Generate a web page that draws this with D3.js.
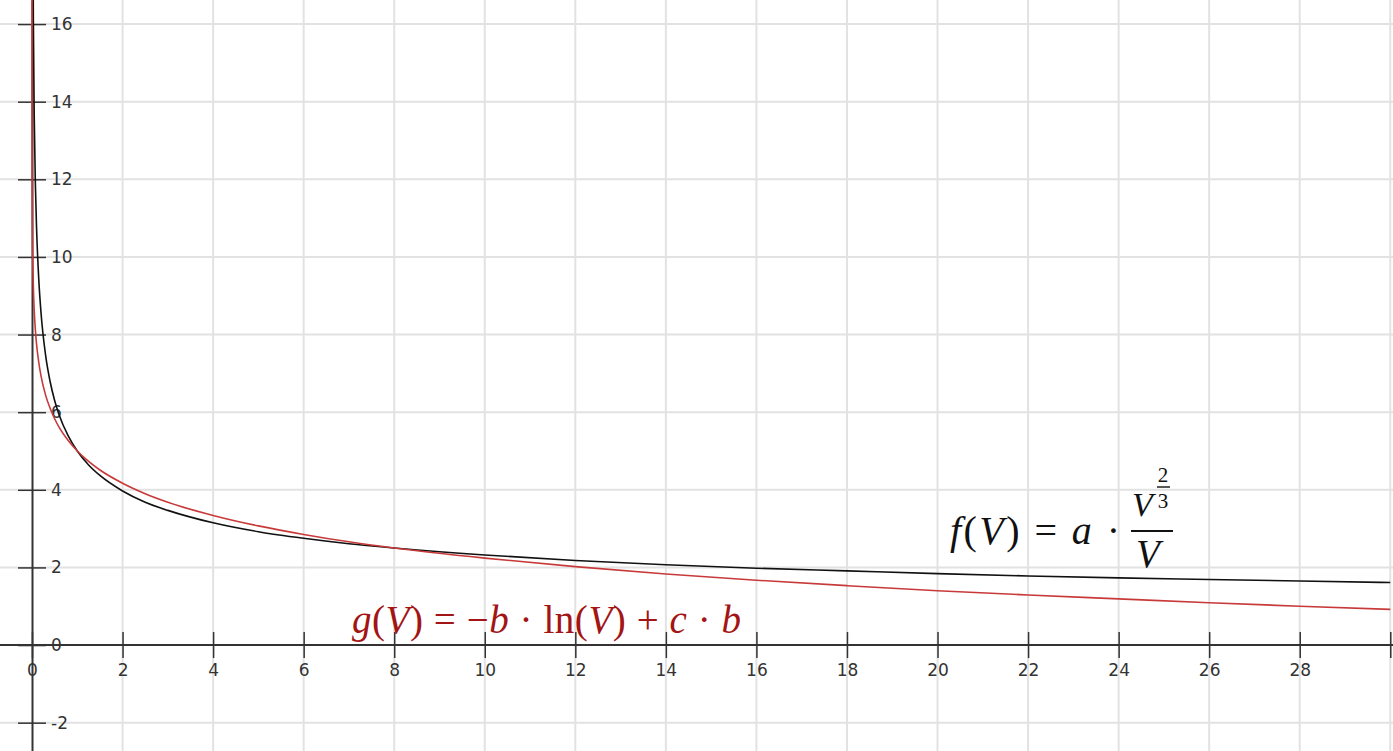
<!DOCTYPE html>
<html>
<head>
<meta charset="utf-8">
<script src="https://cdn.jsdelivr.net/npm/d3@7"></script>
<style>
  html, body { margin: 0; padding: 0; background: #fff; }
  svg { display: block; }
  .tick text { font-family: 'DejaVu Sans', sans-serif; font-size: 17px; fill: #333; }
</style>
</head>
<body>
<div id="chart"></div>
<script>
// tick values
const xTickValues = [0, 2, 4, 6, 8, 10, 12, 14, 16, 18, 20, 22, 24, 26, 28, 30]
const xTickLabels = ['0', '2', '4', '6', '8', '10', '12', '14', '16', '18', '20', '22', '24', '26', '28', '']
const yTickValues = [-2, 0, 2, 4, 6, 8, 10, 12, 14, 16]
const yTickLabels = ['-2', '0', '2', '4', '6', '8', '10', '12', '14', '16']

// f(V) = a * V^(2/3) / V
const fV = [0.02, 0.03, 0.05, 0.075, 0.1, 0.15, 0.2, 0.3, 0.4, 0.5, 0.6, 0.8, 1, 1.25, 1.5, 2, 2.5, 3, 4, 5, 6, 7, 8, 10, 12, 14, 16, 18, 20, 22, 24, 26, 28, 30]
const fY = [18.42, 16.09, 13.57, 11.86, 10.77, 9.41, 8.55, 7.47, 6.79, 6.30, 5.93, 5.39, 5.00, 4.64, 4.37, 3.97, 3.68, 3.47, 3.15, 2.92, 2.75, 2.61, 2.50, 2.32, 2.18, 2.07, 1.98, 1.91, 1.84, 1.78, 1.73, 1.69, 1.65, 1.61]

// g(V) = -b * ln(V) + c * b
const gV = [0.00003, 0.0001, 0.0003, 0.001, 0.003, 0.01, 0.02, 0.03, 0.05, 0.075, 0.1, 0.15, 0.2, 0.3, 0.4, 0.5, 0.6, 0.8, 1, 1.25, 1.5, 2, 2.5, 3, 4, 5, 6, 7, 8, 10, 12, 14, 16, 18, 20, 22, 24, 26, 28, 30]
const gY = [17.49, 16.05, 14.73, 13.29, 11.97, 10.53, 9.69, 9.21, 8.60, 8.11, 7.76, 7.28, 6.93, 6.44, 6.10, 5.83, 5.61, 5.27, 5.00, 4.73, 4.51, 4.17, 3.90, 3.68, 3.34, 3.07, 2.85, 2.66, 2.50, 2.24, 2.02, 1.83, 1.67, 1.53, 1.40, 1.29, 1.19, 1.09, 1.00, 0.92]

const width = 1393
const height = 751

const svg = d3.select('#chart').append('svg')
  .attr('width', width)
  .attr('height', height)

const x = d3.scaleLinear().domain([0, 30.06]).range([32, width])
const y = d3.scaleLinear().domain([-2.73, 16.62]).range([height, 0])

// grid
const grid = svg.append('g').attr('stroke', '#e2e2e2').attr('stroke-width', 2)
grid.selectAll('.vg')
  .data(xTickValues.filter(d => d !== 0))
  .join('line')
  .attr('x1', d => x(d)).attr('x2', d => x(d))
  .attr('y1', 0).attr('y2', height)
grid.selectAll('.hg')
  .data(yTickValues)
  .join('line')
  .attr('y1', d => y(d)).attr('y2', d => y(d))
  .attr('x1', 0).attr('x2', width)

// x axis through y = 0
const xAxis = svg.append('g')
  .attr('transform', `translate(0, ${y(0)})`)
  .call(d3.axisBottom(x)
    .tickValues(xTickValues)
    .tickFormat((d, i) => xTickLabels[i])
    .tickSize(13)
    .tickSizeOuter(0))
xAxis.select('.domain').attr('stroke', '#333').attr('stroke-width', 2).attr('d', `M0,0H${width}`)
xAxis.selectAll('.tick line').attr('y1', -13).attr('stroke', '#333').attr('stroke-width', 1.5)
xAxis.selectAll('.tick text').attr('y', 19)

// y axis through x = 0
const yAxis = svg.append('g')
  .attr('transform', `translate(${x(0)}, 0)`)
  .call(d3.axisRight(y)
    .tickValues(yTickValues)
    .tickFormat((d, i) => yTickLabels[i])
    .tickSize(14)
    .tickSizeOuter(0))
yAxis.select('.domain').attr('stroke', '#333').attr('stroke-width', 2)
yAxis.selectAll('.tick line').attr('x1', -14).attr('stroke', '#333').attr('stroke-width', 1.5)
yAxis.selectAll('.tick text').attr('x', 19)

// curves
const line = d3.line()
  .x(d => x(d[0]))
  .y(d => y(d[1]))
  .curve(d3.curveMonotoneX)

svg.append('path')
  .datum(fV.map((v, i) => [v, fY[i]]))
  .attr('fill', 'none')
  .attr('stroke', '#111')
  .attr('stroke-width', 1.6)
  .attr('d', line)

svg.append('path')
  .datum(gV.map((v, i) => [v, gY[i]]))
  .attr('fill', 'none')
  .attr('stroke', '#c83a3a')
  .attr('stroke-width', 1.6)
  .attr('d', line)

// formula labels
const serif = "'Liberation Serif', 'DejaVu Serif', serif"

const fLab = svg.append('g').attr('fill', '#111').style('font-family', serif)
const fText = fLab.append('text')
  .attr('x', 950).attr('y', 544)
  .style('font-size', '40px')
  .attr('textLength', 170)
  .attr('lengthAdjust', 'spacing')
fText.append('tspan').style('font-style', 'italic').text('f')
fText.append('tspan').text('(')
fText.append('tspan').style('font-style', 'italic').text('V')
fText.append('tspan').text(') = ')
fText.append('tspan').style('font-style', 'italic').text('a')
fText.append('tspan').text(' ·')

fLab.append('text')
  .attr('x', 1132).attr('y', 516)
  .style('font-size', '34px').style('font-style', 'italic')
  .text('V')
fLab.append('text')
  .attr('x', 1163).attr('y', 482).attr('text-anchor', 'middle')
  .style('font-size', '21px')
  .text('2')
fLab.append('line')
  .attr('x1', 1157).attr('x2', 1170).attr('y1', 487).attr('y2', 487)
  .attr('stroke', '#111').attr('stroke-width', 1.4)
fLab.append('text')
  .attr('x', 1163).attr('y', 508).attr('text-anchor', 'middle')
  .style('font-size', '21px')
  .text('3')
fLab.append('line')
  .attr('x1', 1131).attr('x2', 1173).attr('y1', 531).attr('y2', 531)
  .attr('stroke', '#111').attr('stroke-width', 2)
fLab.append('text')
  .attr('x', 1136).attr('y', 567)
  .style('font-size', '39px').style('font-style', 'italic')
  .text('V')

const gText = svg.append('text')
  .attr('x', 352).attr('y', 633)
  .attr('fill', '#a31414')
  .style('font-family', serif)
  .style('font-size', '39px')
  .attr('textLength', 389)
  .attr('lengthAdjust', 'spacing')
gText.append('tspan').style('font-style', 'italic').text('g')
gText.append('tspan').text('(')
gText.append('tspan').style('font-style', 'italic').text('V')
gText.append('tspan').text(') = −')
gText.append('tspan').style('font-style', 'italic').text('b')
gText.append('tspan').text(' · ln(')
gText.append('tspan').style('font-style', 'italic').text('V')
gText.append('tspan').text(') + ')
gText.append('tspan').style('font-style', 'italic').text('c')
gText.append('tspan').text(' · ')
gText.append('tspan').style('font-style', 'italic').text('b')
</script>
</body>
</html>
